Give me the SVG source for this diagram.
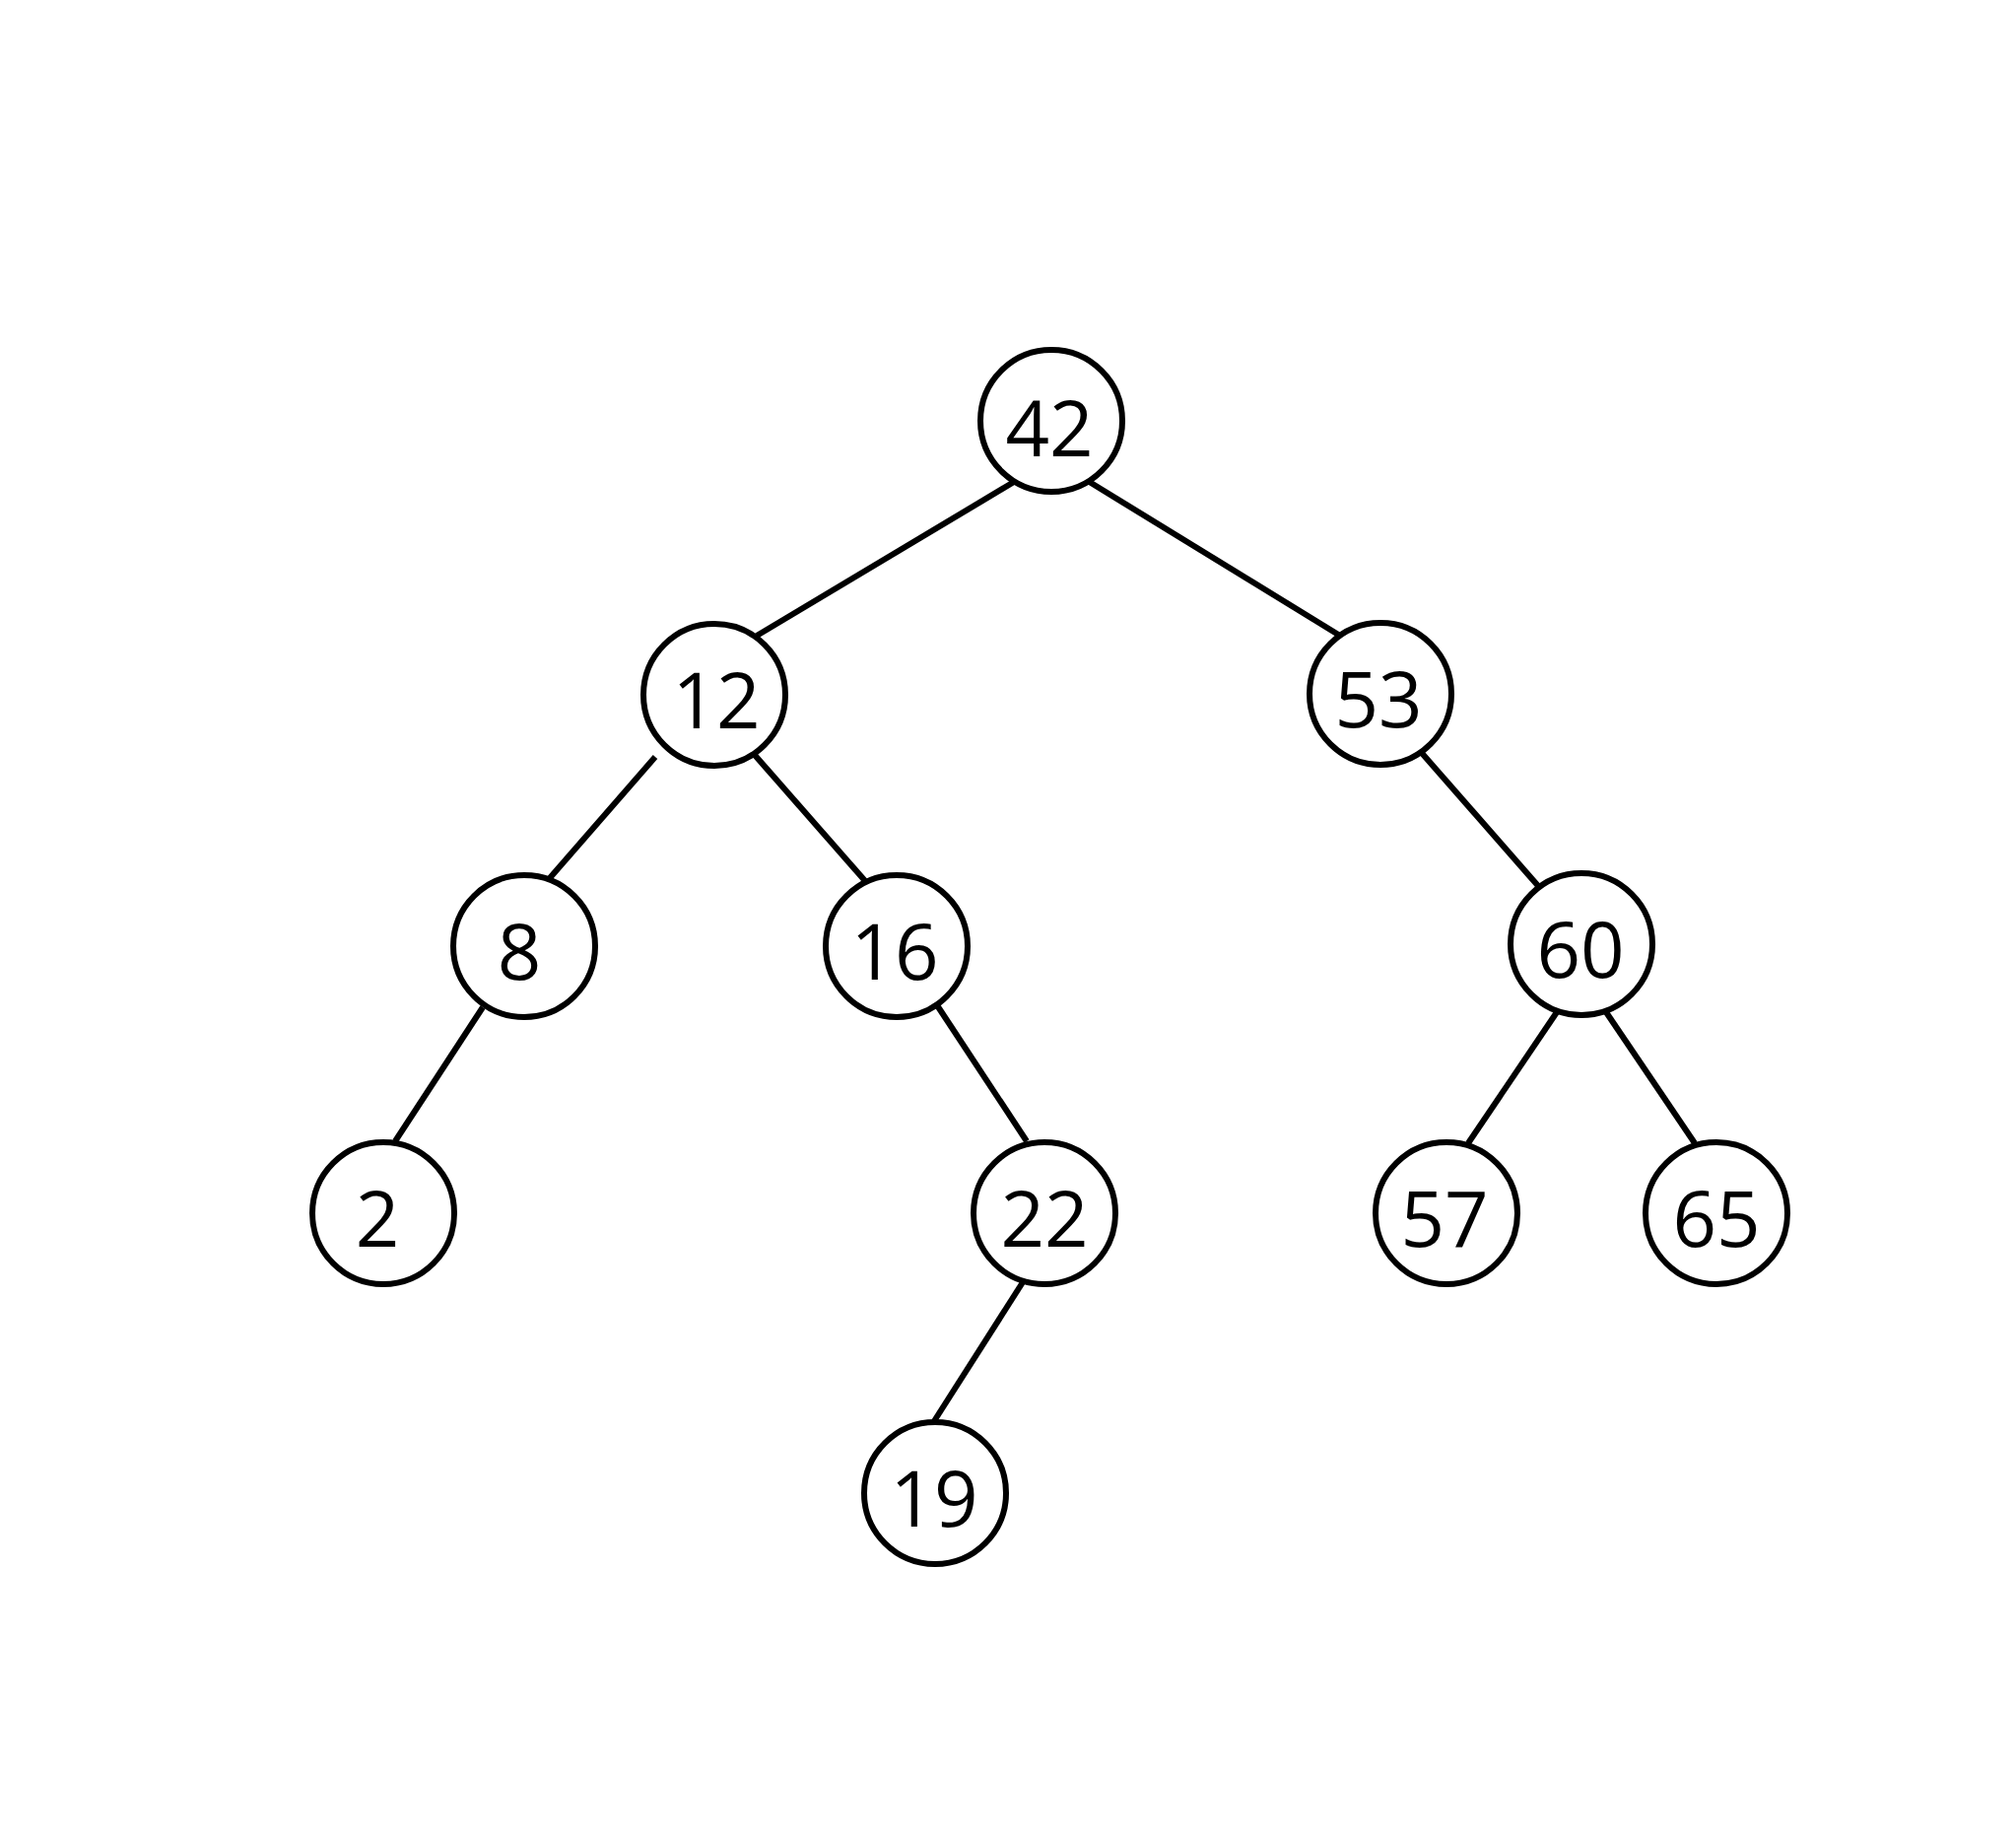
<svg xmlns="http://www.w3.org/2000/svg" width="2046" height="1868" viewBox="0 0 2046 1868">
<style>
.n circle{fill:#fff;stroke:#000;stroke-width:6}
.n text{font-family:"Open Sans","Liberation Sans",sans-serif;font-size:78px;fill:#000;text-anchor:middle}
#edges line{stroke:#000;stroke-width:6}
</style>
<rect width="2046" height="1868" fill="#fff"/>
<g id="edges">
<line x1="1029" y1="489" x2="768" y2="645"/>
<line x1="1104" y1="488" x2="1360" y2="645"/>
<line x1="665" y1="768" x2="557" y2="892"/>
<line x1="765" y1="765" x2="879" y2="895"/>
<line x1="1442" y1="763" x2="1562" y2="900"/>
<line x1="490" y1="1022" x2="401" y2="1158"/>
<line x1="951" y1="1020" x2="1042" y2="1158"/>
<line x1="1580" y1="1027" x2="1490" y2="1160"/>
<line x1="1630" y1="1027" x2="1720" y2="1160"/>
<line x1="1038" y1="1301" x2="948" y2="1442"/>
</g>
<g id="n42" class="n"><circle cx="1067" cy="427" r="72"/><text x="1065" y="463">42</text></g>
<g id="n12" class="n"><circle cx="725" cy="705" r="72"/><text x="727" y="739">12</text></g>
<g id="n53" class="n"><circle cx="1401" cy="704" r="72"/><text x="1399" y="738">53</text></g>
<g id="n8" class="n"><circle cx="532" cy="960" r="72"/><text x="527" y="994">8</text></g>
<g id="n16" class="n"><circle cx="910" cy="960" r="72"/><text x="908" y="994">16</text></g>
<g id="n60" class="n"><circle cx="1605" cy="958" r="72"/><text x="1604" y="992">60</text></g>
<g id="n2" class="n"><circle cx="389" cy="1231" r="72"/><text x="383" y="1265">2</text></g>
<g id="n22" class="n"><circle cx="1060" cy="1231" r="72"/><text x="1060" y="1265">22</text></g>
<g id="n57" class="n"><circle cx="1468" cy="1231" r="72"/><text x="1466" y="1265">57</text></g>
<g id="n65" class="n"><circle cx="1742" cy="1231" r="72"/><text x="1742" y="1265">65</text></g>
<g id="n19" class="n"><circle cx="949" cy="1515" r="72"/><text x="948" y="1549">19</text></g>
</svg>
